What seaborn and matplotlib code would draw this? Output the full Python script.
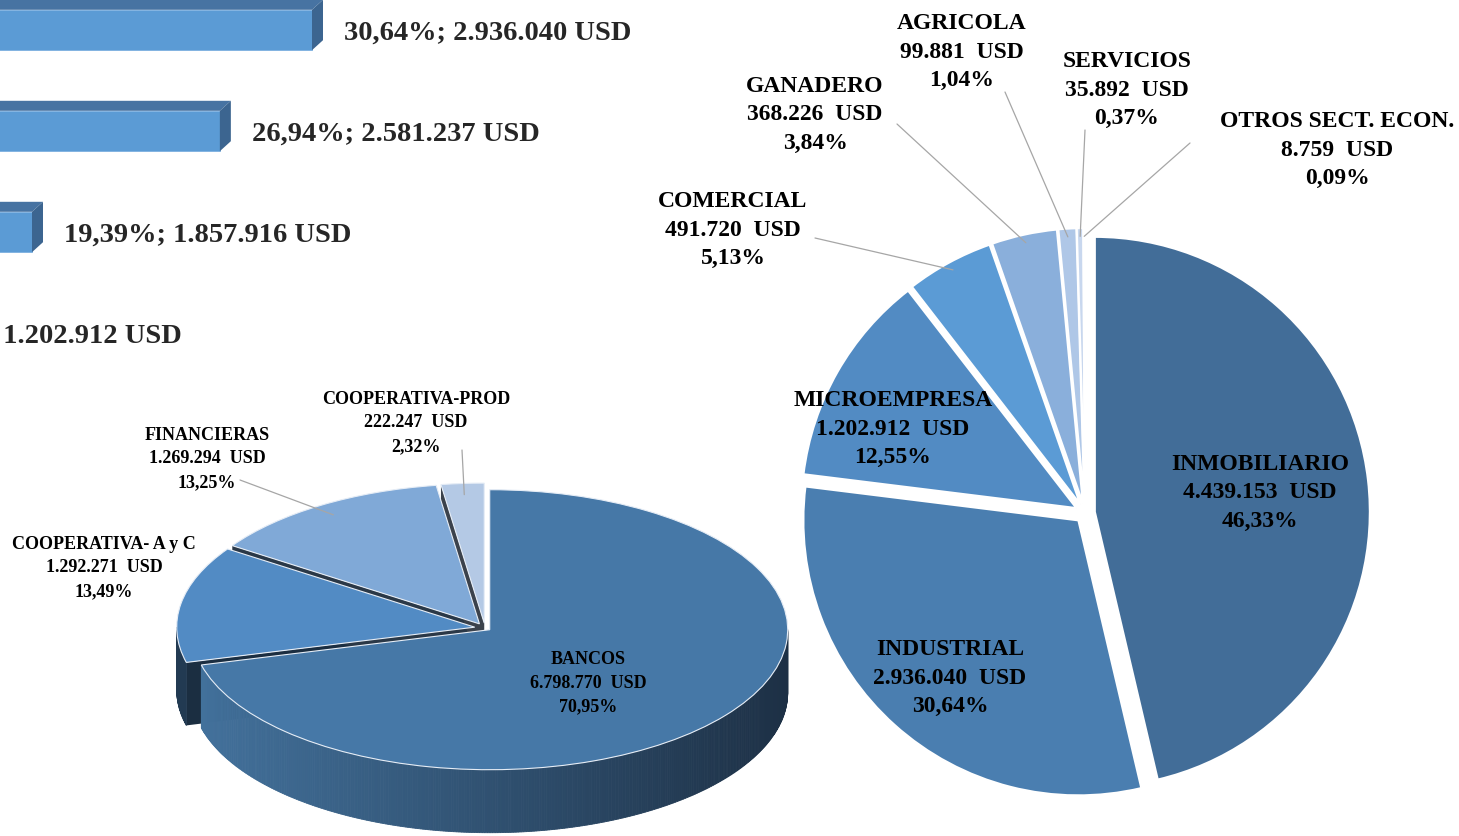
import numpy as np
import pandas as pd
import seaborn as sns
import matplotlib
matplotlib.use("Agg")
import matplotlib.pyplot as plt
from matplotlib.patches import Polygon
from matplotlib.transforms import IdentityTransform
from matplotlib.colors import to_rgb

# datos
bar_cats = ["Barra 1", "Barra 2", "Barra 3", "Barra 4"]
bar_vals = [2936040, 2581237, 1857916, 1202912]

sector_names = ["INMOBILIARIO", "INDUSTRIAL", "MICROEMPRESA", "COMERCIAL",
                "GANADERO", "AGRICOLA", "SERVICIOS", "OTROS SECT. ECON."]
sector_vals = [4439153, 2936040, 1202912, 491720, 368226, 99881, 35892, 8759]
sector_colors = ["#426D98", "#4A7EB0", "#528BC3", "#5B9BD5",
                 "#8AAFDB", "#AFC7E7", "#C8D7EE", "#DFE7F3"]

inst_names = ["BANCOS", "COOPERATIVA- A y C", "FINANCIERAS", "COOPERATIVA-PROD"]
inst_vals = [6798770, 1292271, 1269294, 222247]
inst_colors = ["#4678A7", "#528BC4", "#80A9D7", "#B4C9E5"]

total = sum(sector_vals)


def usd(v):
    return f"{v:,}".replace(",", ".")


def pct(v, tot):
    return f"{100 * v / tot:.2f}%".replace(".", ",")


sns.set_style("white")
plt.rcParams["font.family"] = ["Liberation Serif", "DejaVu Serif"]

W, H = 1459, 836
fig = plt.figure(figsize=(W / 100, H / 100), dpi=100)


def px_axes(x, y, w, h):
    # ejes ubicados en pixeles (origen arriba a la izquierda)
    return fig.add_axes([x / W, 1 - (y + h) / H, w / W, h / H])


def put_text(x, y, s, size, ls):
    fig.text(x / W, 1 - y / H, s, ha="center", va="center", fontsize=size,
             fontweight="bold", linespacing=ls, color="black")


# ---------------- barras 3D (cortadas a la izquierda) ----------------
px_per_usd = 280 / (2936040 - 1857916)
zero_px = 312 - 2936040 * px_per_usd
bar_xmax = 3.2e6
axb = px_axes(zero_px, -20.5, bar_xmax * px_per_usd, 404)
bar_df = pd.DataFrame({"cat": bar_cats, "val": bar_vals})
sns.barplot(data=bar_df, x="val", y="cat", orient="h", color="#5B9BD5",
            saturation=1, width=0.4, ax=axb, edgecolor="#7DB0E0", linewidth=0.6)
axb.set_xlim(0, bar_xmax)
axb.set_ylim(3.5, -0.5)
axb.axis("off")

dx, dy = 11, 10
for p in list(axb.patches):
    pts = axb.transData.transform([(p.get_x(), p.get_y()),
                                   (p.get_x() + p.get_width(), p.get_y() + p.get_height())])
    left, right = pts[:, 0].min(), pts[:, 0].max()
    bot, top = pts[:, 1].min(), pts[:, 1].max()
    top_face = [(left, top), (right, top), (right + dx, top + dy), (left + dx, top + dy)]
    side_face = [(right, bot), (right + dx, bot + dy), (right + dx, top + dy), (right, top)]
    axb.add_patch(Polygon(top_face, closed=True, transform=IdentityTransform(),
                          facecolor="#4773A2", edgecolor="none", clip_on=False))
    axb.add_patch(Polygon(side_face, closed=True, transform=IdentityTransform(),
                          facecolor="#3C6590", edgecolor="none", clip_on=False))

for i, v in enumerate(bar_vals):
    axb.annotate(f"{pct(v, total)}; {usd(v)} USD", xy=(v, i), xytext=(23, -2),
                 textcoords="offset points", ha="left", va="center", fontsize=20.5,
                 fontweight="bold", annotation_clip=False)

# ---------------- torta 3D (instituciones) ----------------
rx, ry = 298, 140
cxl, cyl = 485, 628
axl = px_axes(cxl - 1.5 * rx, cyl - 1.2 * ry, 3 * rx, 3 * ry)
wedges_l, _ = axl.pie(inst_vals, explode=[0.02, 0.035, 0.035, 0.035], startangle=90,
                      counterclock=False, colors=inst_colors,
                      wedgeprops=dict(edgecolor="#E6EDF6", linewidth=0.8))
axl.set_aspect("auto")
axl.set_xlim(-1.5, 1.5)
axl.set_ylim(-1.8, 1.2)
axl.axis("off")
depth = 63 / ry
side_light = np.array(to_rgb("#43729D"))
side_dark = np.array(to_rgb("#1D3045"))

for i, w in enumerate(wedges_l):
    w.set_zorder(3)
    cx, cy = w.center
    base = np.array(to_rgb(inst_colors[i]))
    # caras radiales
    for a, vis in ((w.theta1, np.cos(np.radians(w.theta1)) > 0),
                   (w.theta2, np.cos(np.radians(w.theta2)) < 0)):
        if vis:
            ex, ey = cx + np.cos(np.radians(a)), cy + np.sin(np.radians(a))
            axl.add_patch(Polygon([(cx, cy), (ex, ey), (ex, ey - depth), (cx, cy - depth)],
                                  closed=True, facecolor=base * 0.33, edgecolor="none", zorder=1))
    # pared exterior
    th = np.linspace(w.theta1, w.theta2, int(w.theta2 - w.theta1) * 2 + 2)
    for a, b in zip(th[:-1], th[1:]):
        m = np.radians((a + b) / 2)
        if np.sin(m) >= 0:
            continue
        if i == 0:
            f = (np.cos(m) + 1) / 2
            col = side_light * (1 - f) + side_dark * f
        else:
            col = base * 0.42
        ra, rb = np.radians(a), np.radians(b)
        quad = [(cx + np.cos(ra), cy + np.sin(ra)), (cx + np.cos(rb), cy + np.sin(rb)),
                (cx + np.cos(rb), cy + np.sin(rb) - depth), (cx + np.cos(ra), cy + np.sin(ra) - depth)]
        axl.add_patch(Polygon(quad, closed=True, facecolor=col, edgecolor=col,
                              linewidth=0.6, zorder=2))

inst_tot = sum(inst_vals)
inst_label_px = [(588, 683), (104, 568), (207, 459), (416, 423)]
for name, v, (x, y) in zip(inst_names, inst_vals, inst_label_px):
    put_text(x, y, f"{name}\n{usd(v)}  USD\n{pct(v, inst_tot)}", 13, 1.52)

inst_leaders = {2: (240, 480), 3: (462, 450)}
for i, (sx, sy) in inst_leaders.items():
    w = wedges_l[i]
    m = np.radians((w.theta1 + w.theta2) / 2)
    end = (w.center[0] + 0.92 * np.cos(m), w.center[1] + 0.92 * np.sin(m))
    axl.annotate("", xy=end, xycoords="data", xytext=(sx, H - sy), textcoords="figure pixels",
                 arrowprops=dict(arrowstyle="-", color="#A6A6A6", lw=0.9, shrinkA=0, shrinkB=0),
                 zorder=4)

# ---------------- torta separada (sectores) ----------------
r = 275
cxr, cyr = 1085, 513
axr = px_axes(cxr - 1.3 * r, cyr - 1.3 * r, 2.6 * r, 2.6 * r)
wedges_r, _ = axr.pie(sector_vals, explode=[0.036] * len(sector_vals), startangle=90,
                      counterclock=False, colors=sector_colors,
                      wedgeprops=dict(edgecolor="white", linewidth=1.5))
axr.set_xlim(-1.3, 1.3)
axr.set_ylim(-1.3, 1.3)
axr.axis("off")

sector_label_px = [(1260, 493), (950, 678), (893, 429), (733, 230),
                   (815, 115), (962, 52), (1127, 90), (1337, 150)]
for name, v, (x, y) in zip(sector_names, sector_vals, sector_label_px):
    put_text(x, y, f"{name}\n{usd(v)}  USD\n{pct(v, total)}", 17, 1.48)

sector_leaders = {3: (815, 238), 4: (897, 124), 5: (1005, 92), 6: (1085, 130), 7: (1190, 143)}
for i, (sx, sy) in sector_leaders.items():
    w = wedges_r[i]
    m = np.radians((w.theta1 + w.theta2) / 2)
    end = (w.center[0] + 0.97 * np.cos(m), w.center[1] + 0.97 * np.sin(m))
    axr.annotate("", xy=end, xycoords="data", xytext=(sx, H - sy), textcoords="figure pixels",
                 arrowprops=dict(arrowstyle="-", color="#A6A6A6", lw=0.9, shrinkA=0, shrinkB=0),
                 zorder=4)

fig.savefig("out.png", dpi=100, facecolor="white")
